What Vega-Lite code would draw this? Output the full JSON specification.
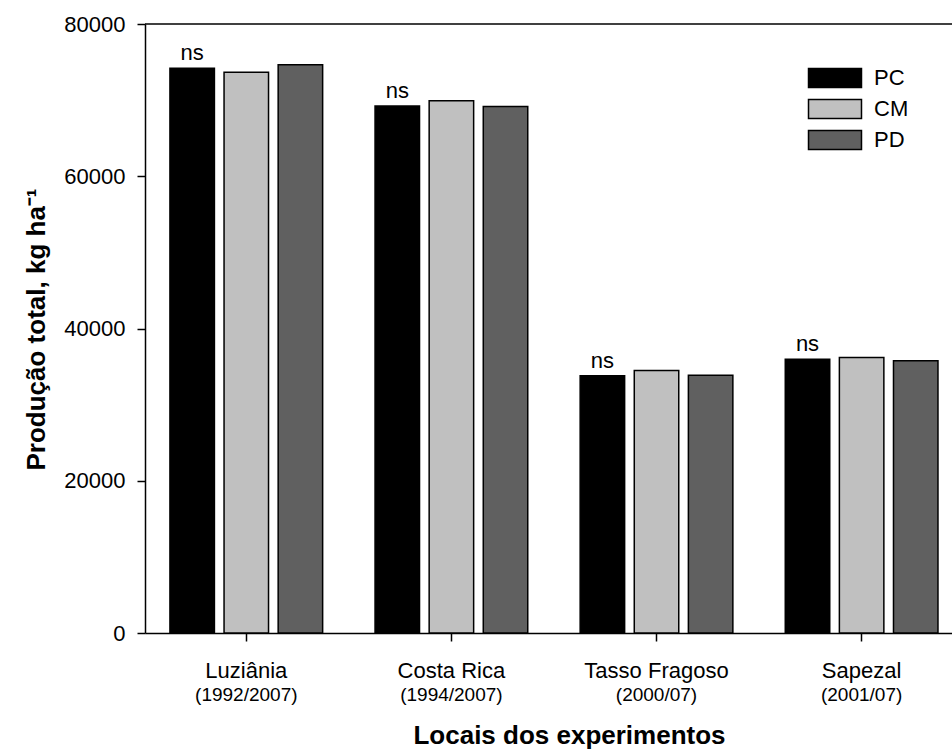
{
  "$schema": "https://vega.github.io/schema/vega-lite/v6.json",
  "width": 807,
  "height": 609,
  "autosize": "none",
  "padding": {"left": 145, "top": 24, "right": 0, "bottom": 118},
  "background": "white",
  "config": {
    "font": "Liberation Sans",
    "view": {"stroke": null},
    "axis": {"domainColor": "black", "tickColor": "black", "labelColor": "black", "titleColor": "black", "domainWidth": 1.5, "tickWidth": 1.5, "grid": false}
  },
  "data": {
    "values": [
      {"local": "Luziânia", "anos": "(1992/2007)", "trat": "PC", "valor": 74200, "ns": "ns"},
      {"local": "Luziânia", "anos": "(1992/2007)", "trat": "CM", "valor": 73650, "ns": ""},
      {"local": "Luziânia", "anos": "(1992/2007)", "trat": "PD", "valor": 74650, "ns": ""},
      {"local": "Costa Rica", "anos": "(1994/2007)", "trat": "PC", "valor": 69230, "ns": "ns"},
      {"local": "Costa Rica", "anos": "(1994/2007)", "trat": "CM", "valor": 69930, "ns": ""},
      {"local": "Costa Rica", "anos": "(1994/2007)", "trat": "PD", "valor": 69150, "ns": ""},
      {"local": "Tasso Fragoso", "anos": "(2000/07)", "trat": "PC", "valor": 33780, "ns": "ns"},
      {"local": "Tasso Fragoso", "anos": "(2000/07)", "trat": "CM", "valor": 34480, "ns": ""},
      {"local": "Tasso Fragoso", "anos": "(2000/07)", "trat": "PD", "valor": 33870, "ns": ""},
      {"local": "Sapezal", "anos": "(2001/07)", "trat": "PC", "valor": 35970, "ns": "ns"},
      {"local": "Sapezal", "anos": "(2001/07)", "trat": "CM", "valor": 36190, "ns": ""},
      {"local": "Sapezal", "anos": "(2001/07)", "trat": "PD", "valor": 35750, "ns": ""}
    ]
  },
  "encoding": {
    "x": {
      "field": "local",
      "type": "nominal",
      "sort": ["Luziânia", "Costa Rica", "Tasso Fragoso", "Sapezal"],
      "scale": {"paddingInner": 0.2555, "paddingOuter": 0.095, "align": 0.64},
      "axis": {
        "title": "Locais dos experimentos",
        "titleFontSize": 26,
        "titleFontWeight": "bold",
        "titleX": 424,
        "titleY": 110,
        "titleBaseline": "alphabetic",
        "titleAlign": "center",
        "titleAnchor": null,
        "labelFontSize": 22,
        "labelAngle": 0,
        "labelBaseline": "alphabetic",
        "labelPadding": 36,
        "labelOverlap": false,
        "tickSize": 8
      }
    },
    "y": {
      "field": "valor",
      "type": "quantitative",
      "scale": {"domain": [0, 80000], "nice": false},
      "axis": {
        "title": "Produção total, kg ha⁻¹",
        "values": [0, 20000, 40000, 60000, 80000],
        "format": "d",
        "labelFontSize": 22,
        "labelPadding": 12,
        "tickSize": 8,
        "titleFontSize": 26,
        "titleFontWeight": "bold",
        "titleAngle": -90,
        "titleX": -101,
        "titleY": 305,
        "titleBaseline": "alphabetic",
        "titleAlign": "center",
        "titleAnchor": null
      }
    }
  },
  "layer": [
    {
      "data": {"values": [{"topo": 80000}]},
      "mark": {"type": "rule", "color": "black", "strokeWidth": 1.5},
      "encoding": {
        "x": null,
        "y": {"field": "topo", "type": "quantitative"}
      }
    },
    {
      "mark": {"type": "bar", "stroke": "black", "strokeWidth": 1.5},
      "encoding": {
        "xOffset": {
          "field": "trat",
          "type": "nominal",
          "sort": ["PC", "CM", "PD"],
          "scale": {"paddingInner": 0.178, "paddingOuter": 0}
        },
        "color": {
          "field": "trat",
          "type": "nominal",
          "sort": ["PC", "CM", "PD"],
          "scale": {"domain": ["PC", "CM", "PD"], "range": ["#000000", "#c0c0c0", "#606060"]},
          "legend": {
            "orient": "none",
            "legendX": 676,
            "legendY": 40,
            "title": null,
            "padding": 0,
            "symbolType": "M-2,-0.716H2V0.716H-2Z",
            "symbolSize": 702,
            "symbolStrokeColor": "black",
            "symbolStrokeWidth": 1.5,
            "symbolOpacity": 1,
            "labelFontSize": 22,
            "labelColor": "black",
            "labelOffset": 25,
            "rowPadding": 4
          }
        }
      }
    },
    {
      "transform": [{"filter": "datum.trat == 'PC'"}],
      "mark": {"type": "text", "fontSize": 22, "color": "black", "baseline": "alphabetic", "dy": -8},
      "encoding": {
        "xOffset": {
          "field": "trat",
          "type": "nominal",
          "sort": ["PC", "CM", "PD"],
          "scale": {"domain": ["PC", "CM", "PD"], "paddingInner": 0.178, "paddingOuter": 0}
        },
        "text": {"field": "ns"}
      }
    },
    {
      "transform": [{"filter": "datum.trat == 'PC'"}],
      "mark": {"type": "text", "fontSize": 19, "color": "black", "baseline": "alphabetic", "dy": 68},
      "encoding": {
        "y": {"datum": 0, "type": "quantitative"},
        "text": {"field": "anos"}
      }
    }
  ]
}
